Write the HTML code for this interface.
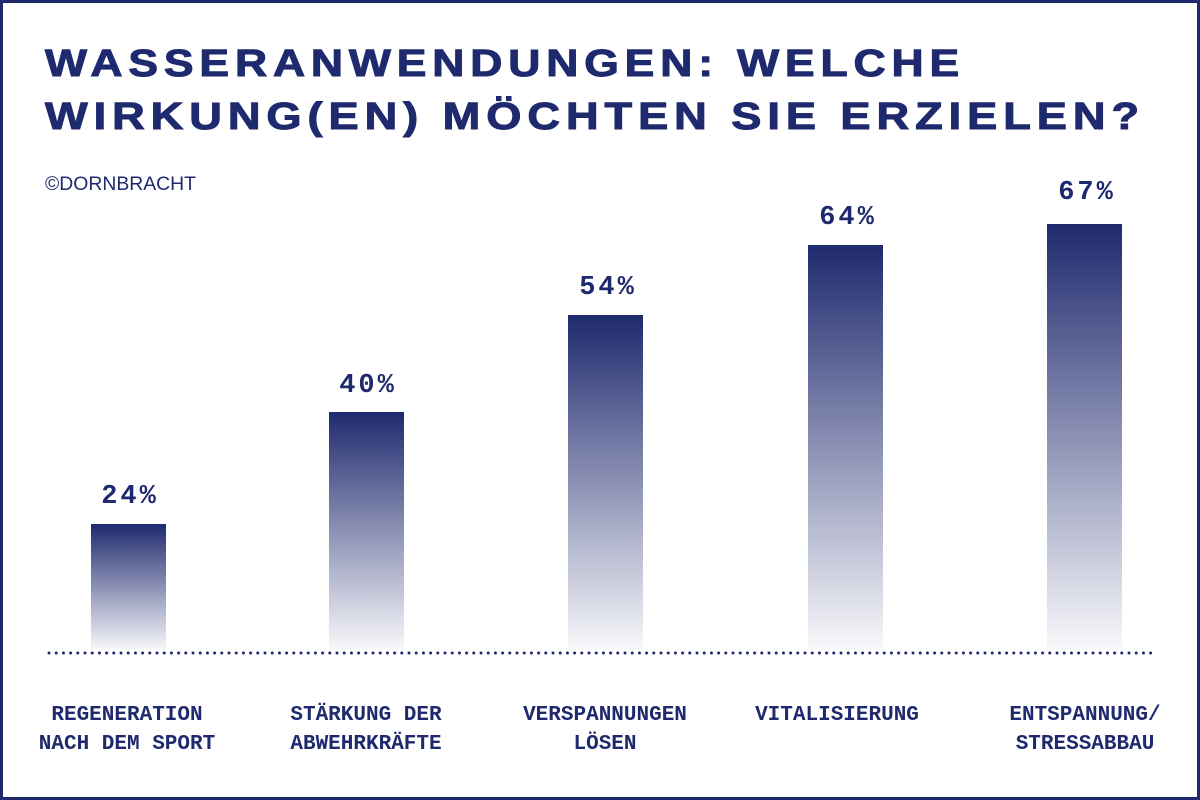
<!DOCTYPE html>
<html><head><meta charset="utf-8"><style>
html,body{margin:0;padding:0;background:#fff}
svg{display:block}
</style></head><body>
<svg width="1200" height="800" viewBox="0 0 1200 800" xmlns="http://www.w3.org/2000/svg">
<defs>
<linearGradient id="g" x1="0" y1="0" x2="0" y2="1">
<stop offset="0" stop-color="#1f2a6e" stop-opacity="1"/>
<stop offset="1" stop-color="#1f2a6e" stop-opacity="0.03"/>
</linearGradient>
</defs>
<rect x="1.5" y="1.5" width="1197" height="797" fill="#fff" stroke="#1f2a6e" stroke-width="3"/>
<g fill="#1f2a6e" stroke="#1f2a6e" stroke-width="1" font-family="Liberation Sans, Arial, sans-serif" font-weight="bold" font-size="38" letter-spacing="5">
<text x="45" y="76" textLength="920" lengthAdjust="spacingAndGlyphs">WASSERANWENDUNGEN: WELCHE</text>
<text x="45" y="129" textLength="1100" lengthAdjust="spacingAndGlyphs">WIRKUNG(EN) MÖCHTEN SIE ERZIELEN?</text>
</g>
<text x="45" y="190" fill="#1f2a6e" font-family="Liberation Sans, Arial, sans-serif" font-size="19" textLength="151" lengthAdjust="spacingAndGlyphs">©DORNBRACHT</text>
<g fill="url(#g)">
<rect x="91" y="524" width="75" height="126"/>
<rect x="329" y="412" width="75" height="238"/>
<rect x="568" y="315" width="75" height="335"/>
<rect x="808" y="245" width="75" height="405"/>
<rect x="1047" y="224" width="75" height="426"/>
</g>
<line x1="49" y1="653" x2="1152" y2="653" stroke="#1f2a6e" stroke-width="3" stroke-linecap="round" stroke-dasharray="0 7.2"/>
<g fill="#1f2a6e" font-family="Liberation Mono, monospace" font-weight="bold" font-size="27" letter-spacing="3" text-anchor="middle">
<text x="130" y="503">24%</text>
<text x="368" y="392">40%</text>
<text x="608" y="294">54%</text>
<text x="848" y="224">64%</text>
<text x="1087" y="199">67%</text>
</g>
<g fill="#1f2a6e" font-family="Liberation Mono, monospace" font-weight="bold" font-size="21" text-anchor="middle">
<text x="127" y="720">REGENERATION</text>
<text x="127" y="749">NACH DEM SPORT</text>
<text x="366" y="720">STÄRKUNG DER</text>
<text x="366" y="749">ABWEHRKRÄFTE</text>
<text x="605" y="720">VERSPANNUNGEN</text>
<text x="605" y="749">LÖSEN</text>
<text x="837" y="720">VITALISIERUNG</text>
<text x="1085" y="720">ENTSPANNUNG/</text>
<text x="1085" y="749">STRESSABBAU</text>
</g>
</svg>
</body></html>
